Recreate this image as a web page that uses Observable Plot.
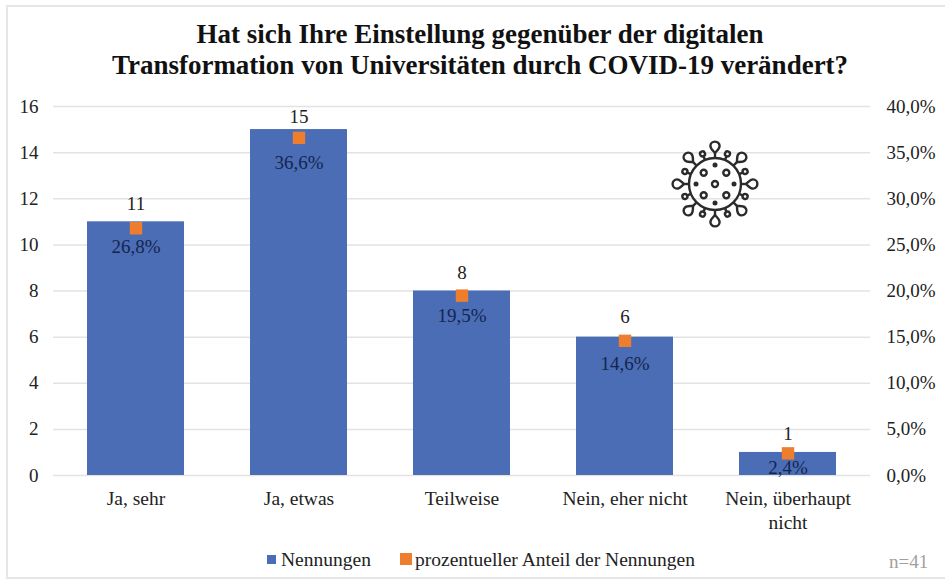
<!DOCTYPE html>
<html><head><meta charset="utf-8">
<script src="https://cdn.jsdelivr.net/npm/d3@7"></script>
<script src="https://cdn.jsdelivr.net/npm/@observablehq/plot@0.6"></script>
<style>
html,body{margin:0;padding:0;background:#fff}
#wrap{position:relative;width:945px;height:585px;overflow:hidden;font-family:"Liberation Serif",serif;color:#222}
#frame{position:absolute;left:6px;top:5px;width:945px;height:574px;border:2px solid #e6e6e6;box-sizing:border-box}
#title{position:absolute;left:0;top:19px;width:960px;text-align:center;font-weight:bold;font-size:27px;line-height:31px;color:#111}
#chart{position:absolute;left:0;top:90px}
#virus{position:absolute;left:665px;top:134px}
.lg{position:absolute;top:549px;font-size:19.5px;line-height:22px;white-space:nowrap}
.sw{position:absolute}
</style></head><body>
<div id="wrap">
<div id="frame"></div>
<div id="title">Hat sich Ihre Einstellung gegenüber der digitalen<br>Transformation von Universitäten durch COVID-19 verändert?</div>
<div id="chart"></div>
<div id="legend"></div>
<div class="lg" style="left:889px;top:551px;color:#a0a0a0;font-size:19px">n=41</div>
</div>
<script>
const categories = ["Ja, sehr", "Ja, etwas", "Teilweise", "Nein, eher nicht", "Nein, überhaupt\nnicht"];
const counts = [11, 15, 8, 6, 1];
const shares = [26.8, 36.6, 19.5, 14.6, 2.4];
const leftTicks = [0, 2, 4, 6, 8, 10, 12, 14, 16];
const rightTicks = [0, 5, 10, 15, 20, 25, 30, 35, 40];

const BLUE = "#4a6db5", ORANGE = "#ee7e2e", INK = "#222", NAVY = "#15254f";
const toCount = p => p * 16 / 40;           // right axis shares the left axis' scale
const pctFmt = p => p.toFixed(1).replace(".", ",") + "%";
const rows = categories.map((c, i) => ({c, n: counts[i], p: shares[i]}));
const shareDy = [19, 25, 20, 23, 15];
const countDy = [-18, -13, -18, -20, -19];

const plot = Plot.plot({
  width: 945, height: 445,
  marginLeft: 53, marginRight: 75, marginTop: 16, marginBottom: 60,
  style: {fontFamily: "'Liberation Serif', serif", fontSize: "19px", color: INK, background: "transparent"},
  x: {domain: categories, paddingInner: 0.406, paddingOuter: 0.203, align: 0.5, label: null},
  y: {domain: [0, 16], label: null},
  marks: [
    Plot.gridY(leftTicks, {stroke: "#e3e3e3", strokeWidth: 1.5, strokeOpacity: 1}),
    Plot.barY(rows, {x: "c", y: "n", fill: BLUE}),
    Plot.dot(rows, {x: "c", y: d => toCount(d.p), symbol: "square", r: 7, fill: ORANGE, stroke: "none"}),
    ...rows.map((d, i) => Plot.text([d], {x: "c", y: "n", text: d => String(d.n), dy: countDy[i], fill: INK, fontSize: 19})),
    ...rows.map((d, i) => Plot.text([d], {x: "c", y: d => toCount(d.p), text: d => pctFmt(d.p), dy: shareDy[i], fill: NAVY, fontSize: 19})),
    Plot.axisY(leftTicks, {anchor: "left", tickSize: 0, tickPadding: 15, label: null, fill: INK, fontSize: 19}),
    Plot.axisY(rightTicks.map(toCount), {anchor: "right", tickSize: 0, tickPadding: 16, label: null, textAnchor: "start", fill: INK, fontSize: 19, tickFormat: v => pctFmt(v * 40 / 16)}),
    Plot.axisX({anchor: "bottom", tickSize: 0, tickPadding: 13, label: null, fill: INK, fontSize: 19.5, lineHeight: 1.2})
  ]
});
document.getElementById("chart").append(plot);

// legend
const legend = document.getElementById("legend");
[[267, 9, 555, BLUE, 281, "Nennungen"], [400, 12, 553, ORANGE, 415, "prozentueller Anteil der Nennungen"]].forEach(([x, s, y, col, tx, label]) => {
  const sw = document.createElement("div"); sw.className = "sw";
  sw.style.cssText = `left:${x}px;top:${y}px;width:${s}px;height:${s}px;background:${col}`;
  const t = document.createElement("div"); t.className = "lg";
  t.style.left = tx + "px"; t.textContent = label;
  legend.append(sw, t);
});

// virus pictogram (decorative)
const sv = d3.select("#wrap").append("svg").attr("id", "virus").attr("width", 100).attr("height", 100)
  .attr("viewBox", "-50 -50 100 100")
  .attr("fill", "none").attr("stroke", "#2b2b2b").attr("stroke-width", 2.4);
sv.append("circle").attr("r", 26);
d3.range(8).forEach(i => {
  const a = i * 45, g = sv.append("g").attr("transform", `rotate(${a})`);
  g.append("line").attr("y1", -26).attr("y2", -31);
  g.append("path").attr("d", "M0,-31 C-1.5,-33 -4.6,-35 -4.6,-38 A4.6,4.4 0 1 1 4.6,-38 C4.6,-35 1.5,-33 0,-31Z");
  const h = sv.append("g").attr("transform", `rotate(${a + 22.5})`);
  h.append("line").attr("y1", -26).attr("y2", -30);
  h.append("circle").attr("cy", -32.6).attr("r", 2.5);
});
sv.append("circle").attr("r", 3);
[[-11.3, -11.3], [11.3, -11.3], [-11.3, 11.3], [11.3, 11.3]].forEach(([x, y]) => sv.append("circle").attr("cx", x).attr("cy", y).attr("r", 3));
[[0, -19], [19, 0], [0, 19], [-19, 0]].forEach(([x, y]) => sv.append("circle").attr("cx", x).attr("cy", y).attr("r", 2.5).attr("fill", "#2b2b2b").attr("stroke", "none"));
</script>
</body></html>
